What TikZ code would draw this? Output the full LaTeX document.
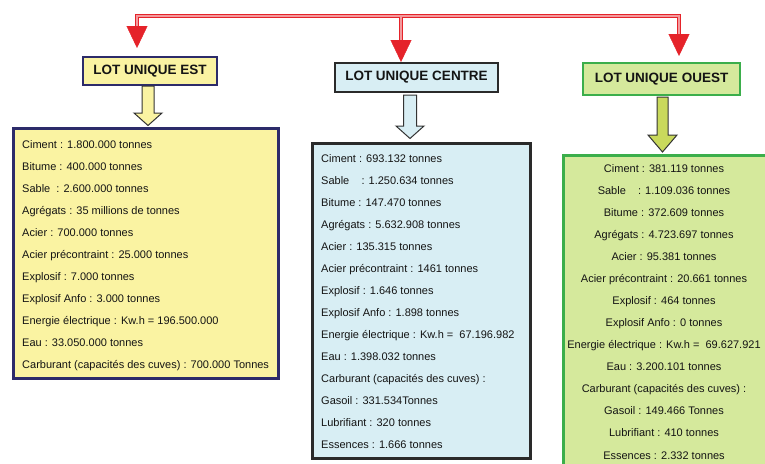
\documentclass[tikz,border=0pt]{standalone}
\usepackage{fontspec}
\setmainfont{Liberation Sans}
\usetikzlibrary{arrows.meta}
\definecolor{redl}{HTML}{E5232A}
\definecolor{pinkl}{HTML}{F39A9D}
\definecolor{estfill}{HTML}{FAF3A2}
\definecolor{estline}{HTML}{2C2B6A}
\definecolor{cenfill}{HTML}{D8EEF4}
\definecolor{cenline}{HTML}{2A2A2A}
\definecolor{oufill}{HTML}{D5E99C}
\definecolor{ouline}{HTML}{3BAE4B}
\definecolor{ouarrow}{HTML}{C9D95C}
\definecolor{txtc}{HTML}{141414}
\begin{document}
\begin{tikzpicture}[x=1pt,y=-1pt,
  hdr/.style={font=\fontsize{13.5}{16}\selectfont\bfseries, text=txtc, line width=2.8pt, inner sep=0pt},
  databox/.style={line width=3pt, inner sep=0pt},
  txt/.style={font=\fontsize{11}{13}\selectfont, text=txtc, inner sep=0pt},
  redouter/.style={draw=redl, line width=4.8pt},
  redinner/.style={draw=pinkl, line width=1.1pt},
  redtip/.style={draw=redl, line width=0.4pt, -{Triangle[width=21pt,length=22pt]}},
  blockarrow/.style={draw=black!80, line width=1pt, line join=miter}
]
\useasboundingbox (0,0) rectangle (765,463);

% headers
\node[hdr, fill=estfill, draw=estline, minimum width=134pt, minimum height=28pt] (hest) at (150,71) {LOT UNIQUE EST};
\node[hdr, fill=cenfill, draw=cenline, minimum width=163pt, minimum height=29pt] (hcen) at (416.5,77.5) {LOT UNIQUE CENTRE};
\node[hdr, fill=oufill, draw=ouline, minimum width=157pt, minimum height=32pt] (hou) at (661.5,79) {LOT UNIQUE OUEST};

% red connectors
\coordinate (hubL) at (137,16);
\coordinate (hubC) at (401,16);
\coordinate (hubR) at (679,16);
\coordinate (aL) at (137,26);
\coordinate (aC) at (401,40);
\coordinate (aR) at (679,34);
\coordinate (tL) at (137,48);
\coordinate (tC) at (401,62);
\coordinate (tR) at (679,56);
\draw[redouter, line join=miter] (aL) -- (hubL) -- (hubR) -- (aR);
\draw[redouter] (hubC) -- (aC);
\draw[redinner, line join=miter] (aL) -- (hubL) -- (hubR) -- (aR);
\draw[redinner] ([yshift=1pt]hubC) -- (aC);
\draw[redtip] (aL) -- (tL);
\draw[redtip] (aC) -- (tC);
\draw[redtip] (aR) -- (tR);

% data boxes
\node[databox, fill=estfill, draw=estline, minimum width=265pt, minimum height=250pt] (best) at (145.5,253) {};
\node[databox, fill=cenfill, draw=cenline, minimum width=218pt, minimum height=315pt] (bcen) at (421,300.5) {};
\node[databox, fill=oufill, draw=ouline, minimum width=215pt, minimum height=330pt] (bou) at (670.5,320) {};

% block arrows
\draw[blockarrow, fill=estfill] (142,86) -- (154,86) -- (154,113) -- (162,113) -- (148,125.5) -- (134,113) -- (142,113) -- cycle;
\draw[blockarrow, fill=cenfill] (403.5,95) -- (416.5,95) -- (416.5,126) -- (424,126) -- (410,138.5) -- (396,126) -- (403.5,126) -- cycle;
\draw[blockarrow, fill=ouarrow] (657,97) -- (668,97) -- (668,135) -- (677,135) -- (662.5,152) -- (648,135) -- (657,135) -- cycle;

% texts EST
\foreach \t [count=\i from 0] in {
  {Ciment : 1.800.000 tonnes},
  {Bitume : 400.000 tonnes},
  {Sable\ \ : 2.600.000 tonnes},
  {Agrégats : 35 millions de tonnes},
  {Acier : 700.000 tonnes},
  {Acier précontraint : 25.000 tonnes},
  {Explosif : 7.000 tonnes},
  {Explosif Anfo : 3.000 tonnes},
  {Energie électrique : Kw.h = 196.500.000},
  {Eau : 33.050.000 tonnes},
  {Carburant (capacités des cuves) : 700.000 Tonnes}}
  \node[txt, anchor=base west] (est\i) at ({22},{148+22*\i}) {\t};

% texts CENTRE
\foreach \t [count=\i from 0] in {
  {Ciment : 693.132 tonnes},
  {Sable\ \ \ \ : 1.250.634 tonnes},
  {Bitume : 147.470 tonnes},
  {Agrégats : 5.632.908 tonnes},
  {Acier : 135.315 tonnes},
  {Acier précontraint : 1461 tonnes},
  {Explosif : 1.646 tonnes},
  {Explosif Anfo : 1.898 tonnes},
  {Energie électrique : Kw.h =\ \ 67.196.982},
  {Eau : 1.398.032 tonnes},
  {Carburant (capacités des cuves) :},
  {Gasoil : 331.534Tonnes},
  {Lubrifiant : 320 tonnes},
  {Essences : 1.666 tonnes}}
  \node[txt, anchor=base west] (cen\i) at ({321},{162+22*\i}) {\t};

% texts OUEST
\foreach \t [count=\i from 0] in {
  {Ciment : 381.119 tonnes},
  {Sable\ \ \ \ : 1.109.036 tonnes},
  {Bitume : 372.609 tonnes},
  {Agrégats : 4.723.697 tonnes},
  {Acier : 95.381 tonnes},
  {Acier précontraint : 20.661 tonnes},
  {Explosif : 464 tonnes},
  {Explosif Anfo : 0 tonnes},
  {Energie électrique : Kw.h =\ \ 69.627.921},
  {Eau : 3.200.101 tonnes},
  {Carburant (capacités des cuves) :},
  {Gasoil : 149.466 Tonnes},
  {Lubrifiant : 410 tonnes},
  {Essences : 2.332 tonnes}}
  \node[txt, anchor=base] (ou\i) at ({664},{172+22.08*\i}) {\t};
\end{tikzpicture}
\end{document}
